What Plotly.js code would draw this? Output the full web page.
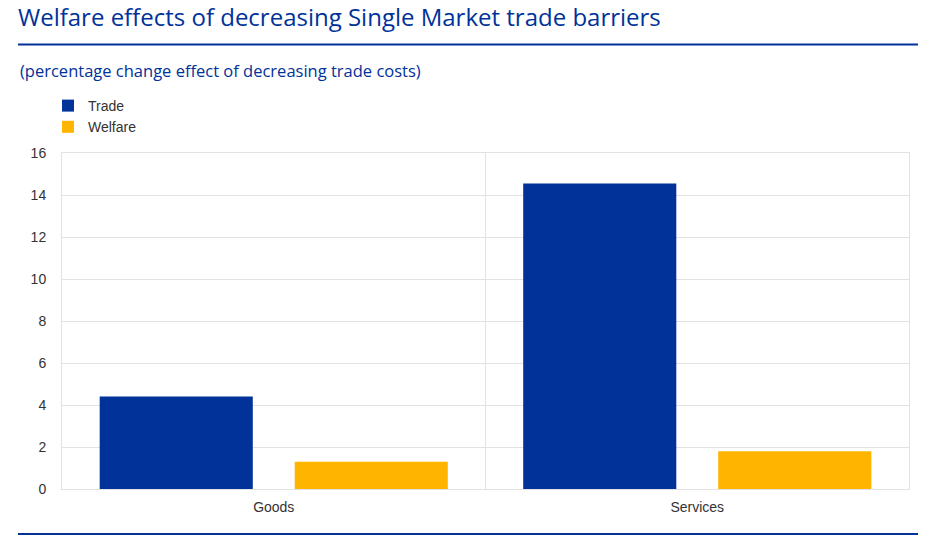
<!DOCTYPE html>
<html>
<head>
<meta charset="utf-8">
<script src="https://cdn.plot.ly/plotly-3.0.1.min.js"></script>
<style>html,body{margin:0;padding:0;background:#fff;}#chart{width:937px;height:546px;}</style>
</head>
<body>
<div id="chart"></div>
<script>
const categories = ["Goods", "Services"];
const tradeValues = [4.4, 14.55];
const welfareValues = [1.3, 1.8];
const seriesNames = ["Trade", "Welfare"];
const yTicks = [0, 2, 4, 6, 8, 10, 12, 14, 16];

const BLUE = "#003299";
const YELLOW = "#FFB400";

const L = 62, R = 909, T = 153, B = 489;
const W = 937, H = 546;
const px = x => (x - L) / (R - L);
const py = y => (B - y) / (B - T);

const traces = [
  {type: "bar", name: seriesNames[0], x: categories, y: tradeValues,
   marker: {color: BLUE, line: {width: 0}}, hoverinfo: "skip"},
  {type: "bar", name: seriesNames[1], x: categories, y: welfareValues,
   marker: {color: YELLOW, line: {width: 0}}, hoverinfo: "skip"}
];

const layout = {
  width: W, height: H,
  margin: {l: L, r: W - R, t: T, b: H - B, pad: 0},
  paper_bgcolor: "#fff", plot_bgcolor: "#fff",
  barmode: "group", bargap: 0.079, bargroupgap: 0.215,
  font: {family: "Liberation Sans, Arial, sans-serif", size: 14, color: "#333"},
  title: {
    text: "Welfare effects of decreasing Single Market trade barriers",
    font: {family: "Open Sans, sans-serif", size: 24, color: BLUE},
    xref: "container", yref: "container", x: 18 / W, xanchor: "left",
    y: 1 - 18 / H, yanchor: "middle"
  },
  xaxis: {
    type: "category", tickson: "boundaries", showgrid: true, gridcolor: "#e2e2e2", gridwidth: 1,
    showline: true, linecolor: "#e2e2e2", mirror: true, ticks: "", zeroline: false,
    ticklabelstandoff: 5,
    tickfont: {family: "Liberation Sans, Arial, sans-serif", size: 14, color: "#333"}
  },
  yaxis: {
    range: [0, 16], tickvals: yTicks, ticktext: yTicks.map(String), showgrid: true,
    gridcolor: "#e2e2e2", gridwidth: 1, showline: true, linecolor: "#e2e2e2", mirror: true,
    zeroline: false, ticks: "", ticklabelstandoff: 12,
    tickfont: {family: "Liberation Sans, Arial, sans-serif", size: 14, color: "#333"}
  },
  legend: {
    orientation: "v", traceorder: "normal", x: px(48), xanchor: "left", y: py(90), yanchor: "top",
    bgcolor: "rgba(0,0,0,0)", font: {family: "Liberation Sans, Arial, sans-serif", size: 14, color: "#333"},
    itemclick: false, itemdoubleclick: false, tracegroupgap: 0
  },
  showlegend: true,
  annotations: [{
    text: "(percentage change effect of decreasing trade costs)",
    xref: "paper", yref: "paper", x: px(18), y: py(70), xanchor: "left", yanchor: "middle",
    showarrow: false, font: {family: "Open Sans, sans-serif", size: 16.5, color: BLUE}
  }],
  shapes: [
    {type: "line", xref: "paper", yref: "paper", x0: px(18), x1: px(918), y0: py(44.5), y1: py(44.5),
     line: {color: BLUE, width: 2}},
    {type: "line", xref: "paper", yref: "paper", x0: px(18), x1: px(918), y0: py(534), y1: py(534),
     line: {color: BLUE, width: 2}}
  ]
};

Plotly.newPlot("chart", traces, layout, {displayModeBar: false, staticPlot: true});
</script>
</body>
</html>
